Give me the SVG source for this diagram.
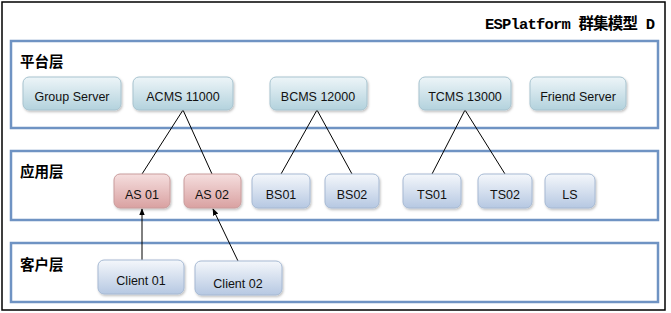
<svg xmlns="http://www.w3.org/2000/svg" width="671" height="313" viewBox="0 0 671 313">
<defs>
<linearGradient id="gTeal" x1="0" y1="0" x2="0" y2="1"><stop offset="0" stop-color="#EDF5F8"/><stop offset="1" stop-color="#B3D2DD"/></linearGradient>
<linearGradient id="gBlue" x1="0" y1="0" x2="0" y2="1"><stop offset="0" stop-color="#F4F7FB"/><stop offset="1" stop-color="#B6C8E2"/></linearGradient>
<linearGradient id="gRed" x1="0" y1="0" x2="0" y2="1"><stop offset="0" stop-color="#F5DEDE"/><stop offset="1" stop-color="#D9A1A1"/></linearGradient>
<marker id="arr" viewBox="0 0 10 10" refX="9" refY="5" markerWidth="7" markerHeight="7" orient="auto"><path d="M0,1 L10,5 L0,9 z" fill="#000"/></marker>
<filter id="sh" x="-10%" y="-10%" width="130%" height="140%"><feDropShadow dx="1" dy="1.5" stdDeviation="1" flood-color="#000" flood-opacity="0.25"/></filter>
</defs>
<style>
.layer{fill:#fff;stroke:#6F93C3;stroke-width:2.5}
.lt{font-family:"Noto Sans CJK SC","Noto Sans",sans-serif;font-size:14.5px;font-weight:bold;fill:#000}
.teal{fill:url(#gTeal);stroke:#A7C3CF;stroke-width:1;filter:url(#sh)}
.blue{fill:url(#gBlue);stroke:#A6B9D3;stroke-width:1;filter:url(#sh)}
.red{fill:url(#gRed);stroke:#C99C9C;stroke-width:1;filter:url(#sh)}
.nt{font-family:"Liberation Sans",Arial,sans-serif;font-size:12.5px;fill:#111;text-anchor:middle}
.ln{stroke:#000;stroke-width:1;fill:none}
</style>
<rect x="0" y="0" width="671" height="313" fill="#fff"/>
<rect x="2" y="2" width="663" height="308" fill="none" stroke="#000" stroke-width="1.5"/>
<text x="485" y="29" textLength="170" font-family="'Liberation Mono','Noto Sans CJK SC',monospace" font-size="15.5" font-weight="bold">ESPlatform 群集模型 D</text>

<g id="layer-platform"><rect class="layer" x="11" y="41" width="647" height="87"/><text class="lt" x="20" y="67">平台层</text></g>
<g id="layer-app"><rect class="layer" x="11" y="151" width="647" height="69"/><text class="lt" x="20" y="177">应用层</text></g>
<g id="layer-client"><rect class="layer" x="11" y="243" width="647" height="59"/><text class="lt" x="20" y="270">客户层</text></g>

<g id="connectors">
<line class="ln" x1="183" y1="110" x2="142" y2="174"/>
<line class="ln" x1="183" y1="110" x2="212" y2="174"/>
<line class="ln" x1="317" y1="110" x2="281" y2="174"/>
<line class="ln" x1="317" y1="110" x2="352" y2="174"/>
<line class="ln" x1="465" y1="110" x2="432" y2="174"/>
<line class="ln" x1="465" y1="110" x2="505" y2="174"/>
<line class="ln" x1="142" y1="260" x2="142" y2="209" marker-end="url(#arr)"/>
<line class="ln" x1="238" y1="261" x2="213" y2="209" marker-end="url(#arr)"/>
</g>

<g id="group-server"><rect class="teal" x="23" y="77" width="98" height="33" rx="6"/><text class="nt" x="72" y="101">Group Server</text></g>
<g id="acms"><rect class="teal" x="133" y="77" width="100" height="33" rx="6"/><text class="nt" x="183" y="101">ACMS 11000</text></g>
<g id="bcms"><rect class="teal" x="270" y="77" width="97" height="33" rx="6"/><text class="nt" x="318" y="101">BCMS 12000</text></g>
<g id="tcms"><rect class="teal" x="419" y="77" width="92" height="33" rx="6"/><text class="nt" x="465" y="101">TCMS 13000</text></g>
<g id="friend-server"><rect class="teal" x="530" y="77" width="96" height="33" rx="6"/><text class="nt" x="578" y="101">Friend Server</text></g>

<g id="as01"><rect class="red" x="114" y="174" width="56" height="34" rx="6"/><text class="nt" x="142" y="199">AS 01</text></g>
<g id="as02"><rect class="red" x="184" y="174" width="57" height="34" rx="6"/><text class="nt" x="212" y="199">AS 02</text></g>
<g id="bs01"><rect class="blue" x="252" y="174" width="58" height="34" rx="6"/><text class="nt" x="281" y="199">BS01</text></g>
<g id="bs02"><rect class="blue" x="325" y="174" width="54" height="34" rx="6"/><text class="nt" x="352" y="199">BS02</text></g>
<g id="ts01"><rect class="blue" x="403" y="174" width="58" height="34" rx="6"/><text class="nt" x="432" y="199">TS01</text></g>
<g id="ts02"><rect class="blue" x="478" y="174" width="54" height="34" rx="6"/><text class="nt" x="505" y="199">TS02</text></g>
<g id="ls"><rect class="blue" x="545" y="174" width="50" height="34" rx="6"/><text class="nt" x="570" y="199">LS</text></g>

<g id="client01"><rect class="blue" x="98" y="260" width="86" height="34" rx="6"/><text class="nt" x="141" y="285">Client 01</text></g>
<g id="client02"><rect class="blue" x="195" y="261" width="87" height="34" rx="6"/><text class="nt" x="238" y="288">Client 02</text></g>
</svg>
